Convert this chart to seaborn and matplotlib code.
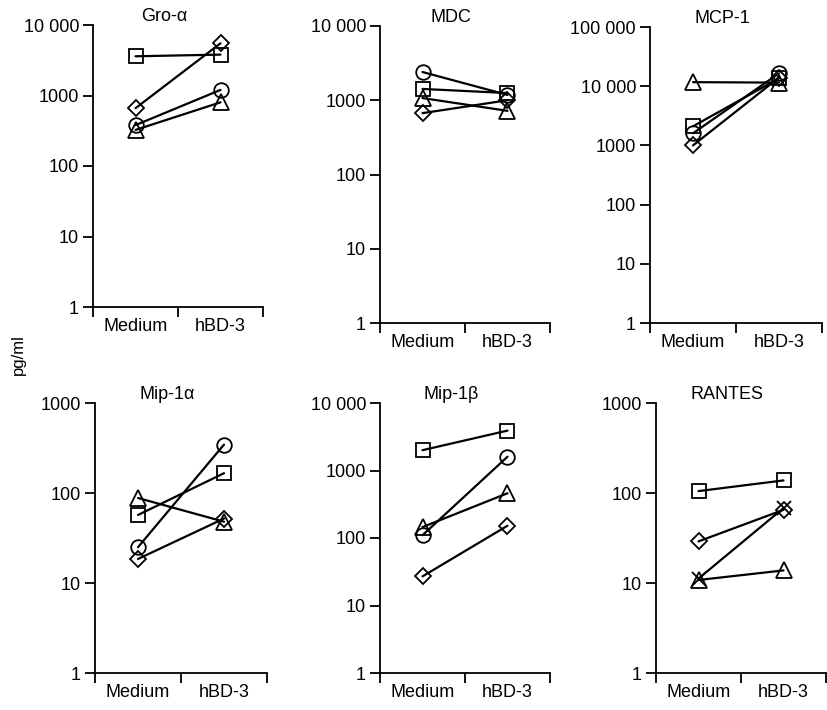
import numpy as np
import pandas as pd
import matplotlib
matplotlib.use("Agg")
import matplotlib.pyplot as plt
import seaborn as sns

sns.set_theme(style="ticks")
plt.rcParams["font.family"] = ["Liberation Sans", "DejaVu Sans"]

conditions = ["Medium", "hBD-3"]
panels = ["Gro-α", "MDC", "MCP-1", "Mip-1α", "Mip-1β", "RANTES"]
donors = ["A", "B", "C", "D"]

# values per panel: [Medium, hBD-3] for donors A (square), B (circle), C (triangle), D (diamond)
gro_a = [[3600, 3800], [380, 1200], [325, 800], [660, 5500]]
mdc = [[1420, 1250], [2400, 1180], [1070, 720], [670, 1000]]
mcp1 = [[2100, 13600], [1600, 16500], [11700, 11500], [1000, 14000]]
mip1a = [[57, 166], [25, 345], [88, 48], [18.5, 52]]
mip1b = [[2000, 3900], [110, 1600], [145, 460], [27, 152]]
rantes = [[105, 138], [11.2, 68], [10.8, 13.8], [29, 65]]

panel_values = [gro_a, mdc, mcp1, mip1a, mip1b, rantes]
ytops = [10000, 10000, 100000, 1000, 10000, 1000]

rows = []
for p, vals in zip(panels, panel_values):
    for d, pair in zip(donors, vals):
        for ci, v in enumerate(pair):
            rows.append(dict(panel=p, donor=d, x=ci, value=v))
df = pd.DataFrame(rows)

W, H = 827, 710
fig = plt.figure(figsize=(W / 100, H / 100), dpi=100)

# pixel boxes: left, right, top, bottom
boxes = [
    (93, 263, 25, 307),
    (380, 550, 26, 323),
    (650, 822, 27, 323),
    (95, 267, 403, 673),
    (380, 550, 403, 673),
    (656, 826, 403, 673),
]

marker_sizes = {"s": 10.5, "o": 10.5, "^": 11, "D": 8, "x": 9.5}

def fmt(v):
    if v >= 10000:
        return f"{int(v):,}".replace(",", " ")
    return str(int(v))

for i, (p, ytop, (l, r, t, b)) in enumerate(zip(panels, ytops, boxes)):
    ax = fig.add_axes([l / W, 1 - b / H, (r - l) / W, (b - t) / H])
    sub = df[df.panel == p]
    mk = {"A": "s", "B": "o", "C": "^", "D": "D"}
    if p == "RANTES":
        mk["B"] = "x"
    for d in donors:
        dsub = sub[sub.donor == d]
        m = mk[d]
        sns.lineplot(data=dsub, x="x", y="value", marker=m, color="black",
                     legend=False, ax=ax, linewidth=1.6,
                     markersize=marker_sizes[m], markerfacecolor="none",
                     markeredgecolor="black", markeredgewidth=1.3,
                     sort=False, estimator=None)
    ax.set_yscale("log")
    ax.set_ylim(1, ytop)
    ax.set_xlim(-0.5, 1.5)
    decades = [10 ** k for k in range(int(round(np.log10(ytop))) + 1)]
    ax.set_yticks(decades)
    ax.set_yticklabels([fmt(v) for v in decades])
    ax.yaxis.set_minor_locator(matplotlib.ticker.NullLocator())
    ax.set_xticks([-0.5, 0.5, 1.5])
    ax.set_xticklabels(["", "", ""])
    ax.set_xticks([0, 1], minor=True)
    ax.set_xticklabels(conditions, minor=True)
    ax.tick_params(axis="x", which="minor", length=0, pad=8, labelsize=13, colors="black")
    ax.tick_params(axis="both", which="major", direction="out", length=7, width=1.3,
                   labelsize=13, colors="black", pad=3)
    ax.set_xlabel("")
    ax.set_ylabel("")
    for s in ["top", "right"]:
        ax.spines[s].set_visible(False)
    for s in ["left", "bottom"]:
        ax.spines[s].set_linewidth(1.3)
        ax.spines[s].set_color("black")
    ax.patch.set_alpha(0)
    ax.text(0.42, 1.0, p, transform=ax.transAxes, ha="center", va="bottom",
            fontsize=13, color="black")
    for line in ax.get_lines():
        line.set_clip_on(False)

fig.text(18 / W, 1 - 355 / H, "pg/ml", rotation=90, ha="center", va="center",
         fontsize=12, color="black")

fig.savefig("out.png", dpi=100, facecolor="white")
